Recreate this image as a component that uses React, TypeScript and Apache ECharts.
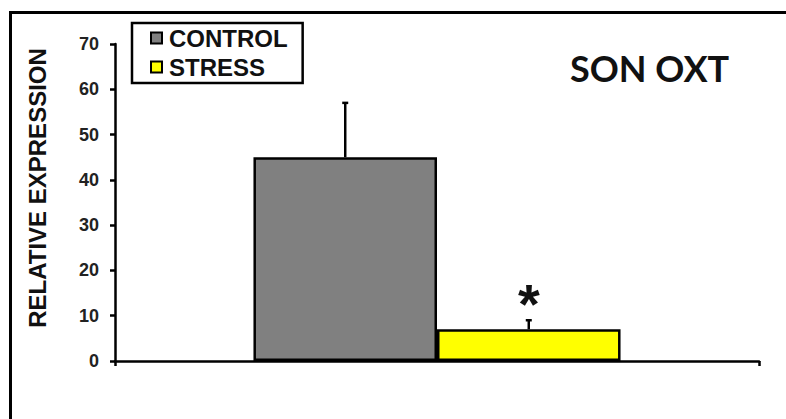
import React, { useEffect, useRef } from "react";
import * as echarts from "echarts";

const groups = ["CONTROL", "STRESS"];
const means = [45, 7];
const errors = [12, 2];
const significance = ["", "*"];
const barColors = ["#808080", "#ffff00"];
const yTicks = { min: 0, max: 70, interval: 10 };
const chartTitle = "SON OXT";
const yName = "RELATIVE EXPRESSION";

const CAT_GAP = 0.43;

export default function App() {
  const ref = useRef<HTMLDivElement>(null);
  useEffect(() => {
    if (!ref.current) return;
    const chart = echarts.init(ref.current, null, { renderer: "svg" });
    const barSeries = groups.map((g, i) => ({
      name: g,
      type: "bar",
      data: [means[i]],
      barGap: "0%",
      barCategoryGap: CAT_GAP * 100 + "%",
      itemStyle: { color: barColors[i], borderColor: "#000", borderWidth: 2.5 },
      z: 2,
    }));
    const errData = groups.map((g, i) => [0, means[i], means[i] + errors[i], i === 0 ? -1 : 1, i]);
    chart.setOption({
      animation: false,
      title: {
        text: chartTitle,
        left: 565,
        top: 45,
        textStyle: { fontFamily: "Lato", fontWeight: "bold", fontSize: 36, color: "#111" },
      },
      legend: {
        data: groups,
        orient: "vertical",
        left: 132,
        top: 23,
        padding: [3, 15, 4, 18],
        itemGap: 5,
        itemWidth: 11,
        itemHeight: 11,
        icon: "rect",
        borderColor: "#000",
        borderWidth: 2.5,
        textStyle: {
          fontFamily: "Liberation Sans",
          fontWeight: "bold",
          fontSize: 24,
          color: "#111",
          lineHeight: 24,
          padding: [0, 0, 0, 2],
        },
      },
      grid: { left: 115, right: 27, top: 44, bottom: 58 },
      xAxis: {
        type: "category",
        data: [chartTitle],
        axisLine: { lineStyle: { color: "#000", width: 2.5 } },
        axisTick: { show: true, length: 5, lineStyle: { color: "#000", width: 2.5 } },
        axisLabel: { show: false },
      },
      yAxis: {
        type: "value",
        min: yTicks.min,
        max: yTicks.max,
        interval: yTicks.interval,
        axisLine: { show: true, lineStyle: { color: "#000", width: 2.5 } },
        axisTick: { show: true, length: 5, lineStyle: { color: "#000", width: 2.5 } },
        splitLine: { show: false },
        axisLabel: { fontFamily: "Liberation Sans", fontWeight: "bold", fontSize: 18, color: "#222", margin: 16 },
      },
      series: [
        ...barSeries,
        {
          type: "custom",
          name: "err",
          data: errData,
          z: 5,
          renderItem: (params: any, api: any) => {
            const base = api.coord([api.value(0), api.value(1)]);
            const top = api.coord([api.value(0), api.value(2)]);
            const catW = api.size([1, 0])[0];
            const barW = (catW * (1 - CAT_GAP)) / 2;
            const x = base[0] + (api.value(3) * barW) / 2;
            const idx = api.value(4);
            const children: any[] = [
              { type: "line", shape: { x1: x, y1: base[1], x2: x, y2: top[1] }, style: { stroke: "#000", lineWidth: 2.5 } },
              { type: "line", shape: { x1: x - 3, y1: top[1], x2: x + 3, y2: top[1] }, style: { stroke: "#000", lineWidth: 2.5 } },
            ];
            if (significance[idx]) {
              children.push({
                type: "text",
                x: x,
                y: top[1] + 11,
                style: {
                  text: significance[idx],
                  fontFamily: "Liberation Sans",
                  fontWeight: "bold",
                  fontSize: 56,
                  fill: "#111",
                  align: "center",
                  verticalAlign: "bottom",
                },
              });
            }
            return { type: "group", children };
          },
        },
      ],
      graphic: [
        {
          type: "rect",
          silent: true,
          shape: { x: 10.5, y: 12.5, width: 900, height: 600 },
          style: { fill: "none", stroke: "#000", lineWidth: 3 },
        },
        {
          type: "text",
          silent: true,
          x: 37,
          y: 188,
          rotation: Math.PI / 2,
          style: {
            text: yName,
            fontFamily: "Liberation Sans",
            fontWeight: "bold",
            fontSize: 24,
            fill: "#111",
            align: "center",
            verticalAlign: "middle",
          },
        },
      ],
    });
    return () => chart.dispose();
  }, []);
  return <div ref={ref} style={{ position: "fixed", left: 0, top: 0, width: 786, height: 419, background: "#fff" }} />;
}
